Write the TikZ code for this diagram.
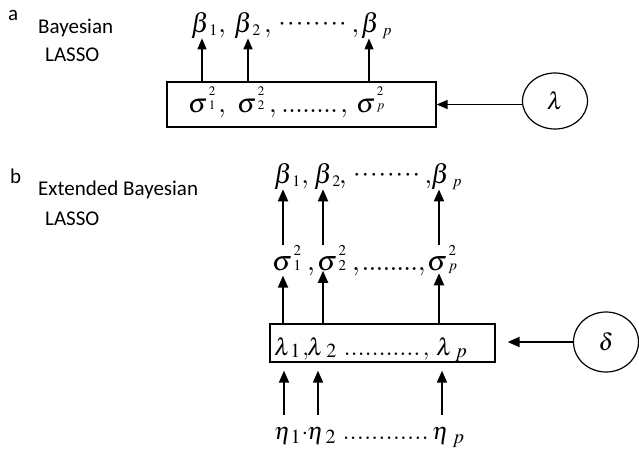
\documentclass[tikz,border=0pt]{standalone}
\usepackage{mathptmx}
\usepackage{fontspec}
\setsansfont{Carlito}
\usetikzlibrary{arrows.meta,shapes.geometric}
% glyph with subscript: glyph, sub, size, shift
\newcommand{\Sb}[4]{$#1$\raisebox{#4}{\fontsize{#3}{#3}\selectfont$#2$}}
% glyph with stacked sub/sup: glyph, sub, sup, size, subshift, supshift
\newcommand{\GSS}[6]{$#1$\kern1.5pt\begingroup\fontsize{#4}{#4}\selectfont\rlap{\raisebox{#6}{$#3$}}\raisebox{#5}{$#2$}\endgroup}
% evenly spaced dots: width, pitch, glyph
\newcommand{\DotRow}[3]{\hbox to #1{\cleaders\hbox to #2{\hss$#3$\hss}\hfill}}
\begin{document}
\begin{tikzpicture}[x=1pt,y=-1pt,
  lab/.style={font=\sffamily\fontsize{21}{21}\selectfont, anchor=base west, inner sep=0pt},
  sym/.style={anchor=base west, inner sep=0pt},
  fbig/.style={font=\fontsize{27}{27}\selectfont},
  fsig/.style={font=\fontsize{28}{28}\selectfont},
  fmid/.style={font=\fontsize{24}{24}\selectfont},
  arrA/.style={-{Triangle[width=9pt,length=11pt]}, line width=1.2pt},
  arrB/.style={-{Triangle[width=10pt,length=12pt]}, line width=2pt},
  boxs/.style={draw, line width=1.3pt, inner sep=0pt},
  circ/.style={draw, ellipse, line width=1.2pt, inner sep=0pt, font=\fontsize{24}{24}\selectfont}]
\useasboundingbox (0,0) rectangle (639,450);
% ---------------- panel a ----------------
\node[lab] (la) at (8,20) {a};
\node[lab] (ta1) at (38,33) {Bayesian};
\node[lab] (ta2) at (45,61) {LASSO};

\node[sym,fbig] (ab1) at (191,32) {\Sb{\beta}{1}{16}{-3pt}\kern1pt$,$};
\node[sym,fbig] (ab2) at (234,32) {\Sb{\beta}{2}{16}{-3pt}};
\node[sym,fbig] (abd) at (264,32) {$,$\kern2pt\raisebox{2pt}{\DotRow{78pt}{8.7pt}{\cdot}}$,$};
\node[sym,fbig] (abp) at (361,32) {\Sb{\beta}{\kern3pt p}{16}{-3pt}};

\node[boxs, minimum width=269pt, minimum height=45pt] (abox) at (301.5,104.5) {};
\node[sym,fbig] (as1) at (188,112) {\GSS{\sigma}{1}{2}{13}{3pt}{17pt}\kern3pt$,$};
\node[sym,fbig] (as2) at (237,112) {\GSS{\sigma}{2}{2}{13}{3pt}{17pt}};
\node[sym,fbig] (asd) at (269,112) {$,$\kern2pt\DotRow{62pt}{7pt}{\ldotp}$,$};
\node[sym,fbig] (asp) at (356,112) {\GSS{\sigma}{p}{2}{13}{3pt}{17pt}};

\coordinate (ca1) at (202,0);
\coordinate (ca2) at (248,0);
\coordinate (ca3) at (369,0);
\draw[arrA] (abox.north -| ca1) -- (ab1.south -| ca1);
\draw[arrA] (abox.north -| ca2) -- (ab2.south -| ca2);
\draw[arrA] (abox.north -| ca3) -- (abp.south -| ca3);

\node[circ, minimum width=65pt, minimum height=56pt] (lam) at (555,101) {$\lambda$};
\draw[arrA, line width=1.5pt] (lam.west |- abox.east) -- (abox.east);

% ---------------- panel b ----------------
\node[lab] (lb) at (10,183) {b};
\node[lab] (tb1) at (38,195) {Extended Bayesian};
\node[lab] (tb2) at (45,225) {LASSO};

\node[sym,fbig] (bb1) at (274,183) {\Sb{\beta}{1}{16}{-3pt}\kern1pt$,$};
\node[sym,fbig] (bb2) at (314,183) {\Sb{\beta}{2}{16}{-3pt}};
\node[sym,fbig] (bbd) at (339,183) {$,$\kern2pt\raisebox{2pt}{\DotRow{76pt}{8.5pt}{\cdot}}$,$};
\node[sym,fbig] (bbp) at (431,183) {\Sb{\beta}{\kern3pt p}{16}{-3pt}};

\node[sym,fsig] (bs1) at (272,270) {\GSS{\sigma}{1}{2}{15}{0pt}{15pt}\kern6pt$,$};
\node[sym,fsig] (bs2) at (317,270) {\GSS{\sigma}{2}{2}{15}{0pt}{15pt}};
\node[sym,fsig] (bsd) at (352,270) {$,$\kern2pt\DotRow{56pt}{7pt}{\ldotp}$,$};
\node[sym,fsig] (bsp) at (427,270) {\GSS{\sigma}{p}{2}{15}{0pt}{15pt}};

\node[boxs, minimum width=225pt, minimum height=38pt] (bbox) at (382.5,343) {};
\node[sym,fmid] (bl1) at (274,355) {\Sb{\lambda}{1}{20}{-2pt}\kern2pt$,$};
\node[sym,fmid] (bl2) at (307,355) {\Sb{\lambda}{\kern3pt 2}{20}{-2pt}};
\node[sym,fmid] (bld) at (341,355) {\DotRow{82pt}{7pt}{\ldotp}$,$};
\node[sym,fmid] (blp) at (436,355) {\Sb{\lambda}{\kern3pt p}{20}{-2pt}};

\node[sym,fmid] (be1) at (274,439) {\Sb{\eta}{1}{20}{-4pt}\kern1pt$\cdot$};
\node[sym,fmid] (be2) at (307,439) {\Sb{\eta}{\kern2pt 2}{20}{-4pt}};
\node[sym,fmid] (bed) at (340,439) {\DotRow{91pt}{7.2pt}{\ldotp}};
\node[sym,fmid] (bep) at (432,439) {\Sb{\eta}{\kern4pt p}{20}{-4pt}};

\coordinate (cb1) at (283,0);
\coordinate (cb2) at (323,0);
\coordinate (cb3) at (439,0);
\draw[arrB] (bs1.north -| cb1) -- (bb1.south -| cb1);
\draw[arrB] (bs2.north -| cb2) -- (bb2.south -| cb2);
\draw[arrB] (bsp.north -| cb3) -- (bbp.south -| cb3);
\draw[arrB] (bbox.north -| cb1) -- (bs1.south -| cb1);
\draw[arrB] (bbox.north -| cb2) -- (bs2.south -| cb2);
\draw[arrB] (bbox.north -| cb3) -- (bsp.south -| cb3);

\coordinate (cd1) at (284,0);
\coordinate (cd2) at (318,0);
\coordinate (cd3) at (442,0);
\draw[arrB] ([yshift=12pt]be1.north -| cd1) -- ([yshift=-8pt]bbox.south -| cd1);
\draw[arrB] ([yshift=12pt]be2.north -| cd2) -- ([yshift=-8pt]bbox.south -| cd2);
\draw[arrB] ([yshift=12pt]bep.north -| cd3) -- ([yshift=-8pt]bbox.south -| cd3);

\node[circ, minimum width=65pt, minimum height=60pt] (del) at (606,342) {$\delta$};
\draw[arrB] (del.west) -- ([xshift=12pt]bbox.east |- del.west);
\end{tikzpicture}
\end{document}
